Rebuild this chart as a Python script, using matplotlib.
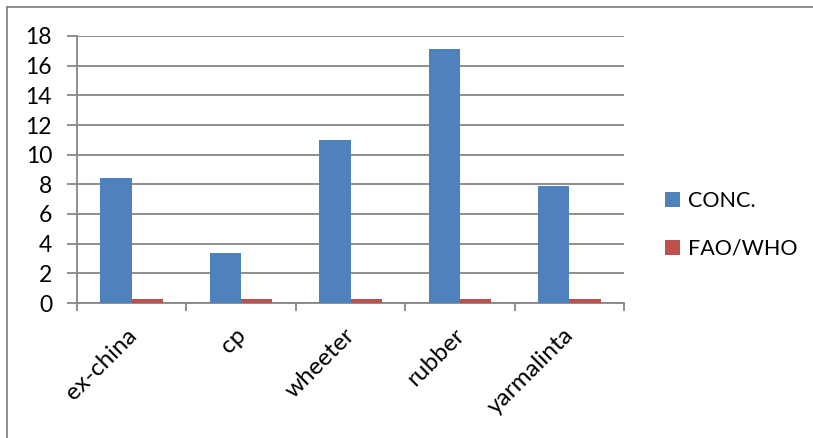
import numpy as np
import matplotlib
matplotlib.use("Agg")
import matplotlib.pyplot as plt
import matplotlib.transforms as mtransforms
from matplotlib.lines import Line2D

# sample sites and measured values
sites = ["ex-china", "cp", "wheeter", "rubber", "yarmalinta"]
conc = [8.4, 3.4, 11.0, 17.1, 7.9]
fao_who = [0.3, 0.3, 0.3, 0.3, 0.3]
y_ticks = [0, 2, 4, 6, 8, 10, 12, 14, 16, 18]

blue = "#4F81BD"
red = "#C0504D"
grey = "#868686"

plt.rcParams["font.family"] = ["Lato", "DejaVu Sans"]

W, H = 813, 438
fig = plt.figure(figsize=(W / 100, H / 100), dpi=100)
ax = fig.add_axes([77 / W, 1 - 303 / H, (624 - 77) / W, (303 - 36) / H])

x = np.arange(len(sites))
bw = 0.286
ax.bar(x - bw / 2, conc, bw, color=blue, label="CONC.", zorder=3)
ax.bar(x + bw / 2, fao_who, bw, color=red, label="FAO/WHO", zorder=3)

ax.set_xlim(-0.5, len(sites) - 0.5)
ax.set_ylim(0, 18)
ax.set_yticks(y_ticks)
ax.tick_params(axis="y", length=7, width=1.3, color=grey, pad=11, labelsize=16.5)
ax.yaxis.grid(True, color=grey, linewidth=1.3, zorder=0)

# category labels on major ticks, boundary marks on minor ticks
ax.set_xticks(x)
ax.set_xticklabels(sites, rotation=45, ha="right", rotation_mode="anchor", fontsize=17.5)
ax.tick_params(axis="x", which="major", length=0, pad=15.5)
shift = mtransforms.ScaledTranslation(-6 / 100, 0, fig.dpi_scale_trans)
for lbl in ax.get_xticklabels():
    lbl.set_transform(lbl.get_transform() + shift)
ax.set_xticks(np.arange(-0.5, len(sites)), minor=True)
ax.tick_params(axis="x", which="minor", length=6, width=1.3, color=grey)

for side in ["top", "right"]:
    ax.spines[side].set_visible(False)
for side in ["left", "bottom"]:
    ax.spines[side].set_color(grey)
    ax.spines[side].set_linewidth(1.3)

fig.legend(loc="center left", bbox_to_anchor=(665 / W, 1 - 225 / H), frameon=False,
           borderpad=0, borderaxespad=0, fontsize=15.5, handlelength=0.7,
           handleheight=0.7, handletextpad=0.35, labelspacing=1.3)

# outer chart frame (top and left edges)
fig.add_artist(Line2D([7 / W, 1], [1 - 7 / H, 1 - 7 / H], color=grey, linewidth=1.3))
fig.add_artist(Line2D([7 / W, 7 / W], [0, 1 - 7 / H], color=grey, linewidth=1.3))

fig.savefig("out.png", dpi=100)
